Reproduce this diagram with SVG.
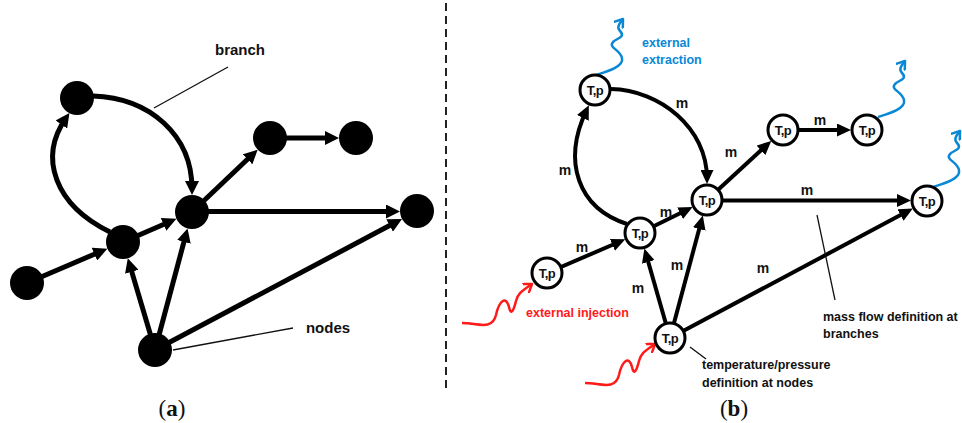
<svg xmlns="http://www.w3.org/2000/svg" width="962" height="423" viewBox="0 0 962 423">
<style>
.lbl{font-family:"Liberation Sans",Arial,sans-serif;font-weight:bold;fill:#111}
.m{font-size:14px;text-anchor:middle}
.tp{font-size:13px;text-anchor:middle;letter-spacing:-0.6px}
.ea{stroke:#000;stroke-width:5;fill:none}
.eb{stroke:#000;stroke-width:4;fill:none}
.na{fill:#000}
.nb{fill:#fff;stroke:#000;stroke-width:3}
.lead{stroke:#111;stroke-width:1.3;fill:none}
.blue{stroke:#0a88d6;stroke-width:2.5;fill:none}
.red{stroke:#ff1a1a;stroke-width:2.5;fill:none}
.cap{font-family:"Liberation Serif","Times New Roman",serif;font-size:23px;text-anchor:middle;fill:#111}
</style>
<defs>
<marker id="ha" viewBox="0 0 14 14" markerUnits="userSpaceOnUse" markerWidth="14" markerHeight="14" refX="8" refY="7" orient="auto"><path d="M0,0 L14,7 L0,14 z" fill="#000"/></marker>
<marker id="hb" viewBox="0 0 14 13" markerUnits="userSpaceOnUse" markerWidth="14" markerHeight="13" refX="8.5" refY="6.5" orient="auto"><path d="M0,0 L14,6.5 L0,13 z" fill="#000"/></marker>
<marker id="hblue" viewBox="0 0 10 12" markerUnits="userSpaceOnUse" markerWidth="10" markerHeight="12" refX="8" refY="6" orient="auto"><path d="M1,1 L8,6 L1,11" fill="none" stroke="#0a88d6" stroke-width="2.5" stroke-linecap="round" stroke-linejoin="round"/></marker>
<marker id="hred" viewBox="0 0 10 12" markerUnits="userSpaceOnUse" markerWidth="10" markerHeight="12" refX="8" refY="6" orient="auto"><path d="M1,1 L8,6 L1,11" fill="none" stroke="#ff1a1a" stroke-width="2.5" stroke-linecap="round" stroke-linejoin="round"/></marker>
<path id="sqb" d="M0,0 C10,-3 28,-8 26,-17 C24,-26 12,-27 17,-33 C21,-37 30,-38 24,-44 C20,-48 24,-52 27,-56" class="blue" marker-end="url(#hblue)"/>
<path id="sqr" d="M0,0 C15,0 30,8 34,-8 C37,-22 44,-28 47,-16 C49,-6 52,-14 54,-22 C56,-30 60,-32 70,-39" class="red" marker-end="url(#hred)"/>
</defs>

<line x1="446" y1="3" x2="446" y2="388" stroke="#222" stroke-width="2" stroke-dasharray="8 5"/>

<g id="connectors">
<!-- panel a -->
<line class="ea" x1="27" y1="283" x2="101.8" y2="251" marker-end="url(#ha)"/>
<line class="ea" x1="123" y1="242" x2="170.9" y2="221.2" marker-end="url(#ha)"/>
<line class="ea" x1="155" y1="350" x2="129.5" y2="264.1" marker-end="url(#ha)"/>
<line class="ea" x1="155" y1="350" x2="186" y2="234.2" marker-end="url(#ha)"/>
<line class="ea" x1="155" y1="350" x2="396.7" y2="221.8" marker-end="url(#ha)"/>
<line class="ea" x1="192" y1="212" x2="253.3" y2="153.8" marker-end="url(#ha)"/>
<line class="ea" x1="270" y1="138" x2="333" y2="138" marker-end="url(#ha)"/>
<line class="ea" x1="192" y1="211.5" x2="394" y2="211.5" marker-end="url(#ha)"/>
<path class="ea" d="M110,232 C55,205 38,158 66,118" marker-end="url(#ha)"/>
<path class="ea" d="M93,96 C150,98 192,135 192,189" marker-end="url(#ha)"/>
<!-- panel b -->
<line class="eb" x1="547" y1="273" x2="620.2" y2="241.5" marker-end="url(#hb)"/>
<line class="eb" x1="640" y1="233" x2="687.7" y2="209.5" marker-end="url(#hb)"/>
<line class="eb" x1="670" y1="338" x2="645.9" y2="253.7" marker-end="url(#hb)"/>
<line class="eb" x1="670" y1="338" x2="701.4" y2="220.8" marker-end="url(#hb)"/>
<line class="eb" x1="670" y1="338" x2="908" y2="211.1" marker-end="url(#hb)"/>
<line class="eb" x1="707" y1="200" x2="767.2" y2="144.6" marker-end="url(#hb)"/>
<line class="eb" x1="783" y1="130" x2="845.5" y2="130" marker-end="url(#hb)"/>
<line class="eb" x1="707" y1="200.5" x2="905.5" y2="200.5" marker-end="url(#hb)"/>
<path class="eb" d="M627,224 C578,208 562,162 586.5,110.2" marker-end="url(#hb)"/>
<path class="eb" d="M611,89 C660,90 707,128 707,178.5" marker-end="url(#hb)"/>
<!-- external flows -->
<use href="#sqb" transform="translate(596,75)"/>
<use href="#sqb" transform="translate(878,117)"/>
<use href="#sqb" transform="translate(933,187)"/>
<use href="#sqr" transform="translate(462,323)"/>
<use href="#sqr" transform="translate(585,383)"/>
<!-- leader lines -->
<line class="lead" x1="228" y1="67" x2="154" y2="108"/>
<line class="lead" x1="293" y1="328" x2="173" y2="350"/>
<line class="lead" x1="817" y1="215" x2="835" y2="300"/>
<line class="lead" x1="690" y1="347" x2="706" y2="359"/>
</g>

<g id="a-nodes">
<circle id="a1" class="na" cx="77" cy="98" r="17"/>
<circle id="a2" class="na" cx="192" cy="212" r="17"/>
<circle id="a3" class="na" cx="123" cy="242" r="17"/>
<circle id="a4" class="na" cx="27" cy="283" r="17"/>
<circle id="a5" class="na" cx="155" cy="350" r="17"/>
<circle id="a6" class="na" cx="270" cy="138" r="17"/>
<circle id="a7" class="na" cx="356" cy="138" r="17"/>
<circle id="a8" class="na" cx="417" cy="211" r="17"/>
</g>

<g id="b1"><circle class="nb" cx="595" cy="90" r="15"/><text class="lbl tp" x="595" y="94.5">T,p</text></g>
<g id="b2"><circle class="nb" cx="707" cy="200" r="15"/><text class="lbl tp" x="707" y="204.5">T,p</text></g>
<g id="b3"><circle class="nb" cx="783" cy="130" r="15"/><text class="lbl tp" x="783" y="134.5">T,p</text></g>
<g id="b4"><circle class="nb" cx="867" cy="130" r="15"/><text class="lbl tp" x="867" y="134.5">T,p</text></g>
<g id="b5"><circle class="nb" cx="927" cy="201" r="15"/><text class="lbl tp" x="927" y="205.5">T,p</text></g>
<g id="b6"><circle class="nb" cx="640" cy="233" r="15"/><text class="lbl tp" x="640" y="237.5">T,p</text></g>
<g id="b7"><circle class="nb" cx="547" cy="273" r="15"/><text class="lbl tp" x="547" y="277.5">T,p</text></g>
<g id="b8"><circle class="nb" cx="670" cy="338" r="15"/><text class="lbl tp" x="670" y="342.5">T,p</text></g>

<g id="labels">
<text class="lbl" x="240" y="55" font-size="15" text-anchor="middle">branch</text>
<text class="lbl" x="328" y="333" font-size="15" text-anchor="middle">nodes</text>
<text class="lbl m" x="582" y="252">m</text>
<text class="lbl m" x="666" y="217">m</text>
<text class="lbl m" x="565" y="175">m</text>
<text class="lbl m" x="682" y="108">m</text>
<text class="lbl m" x="731" y="157">m</text>
<text class="lbl m" x="820" y="125">m</text>
<text class="lbl m" x="807" y="195">m</text>
<text class="lbl m" x="638" y="293">m</text>
<text class="lbl m" x="677" y="270">m</text>
<text class="lbl m" x="763" y="273">m</text>
<text class="lbl" x="642" y="46.5" font-size="12.5" style="fill:#0a88d6">external</text>
<text class="lbl" x="642" y="63.5" font-size="12.5" style="fill:#0a88d6">extraction</text>
<text class="lbl" x="526" y="316.5" font-size="12.5" style="fill:#ff1a1a">external injection</text>
<text class="lbl" x="823" y="321" font-size="12.5">mass flow definition at</text>
<text class="lbl" x="823" y="338" font-size="12.5">branches</text>
<text class="lbl" x="702" y="369" font-size="12.5">temperature/pressure</text>
<text class="lbl" x="702" y="387" font-size="12.5">definition at nodes</text>
<text class="cap" x="172" y="416">(<tspan font-weight="bold">a</tspan>)</text>
<text class="cap" x="734" y="416">(<tspan font-weight="bold">b</tspan>)</text>
</g>
</svg>
